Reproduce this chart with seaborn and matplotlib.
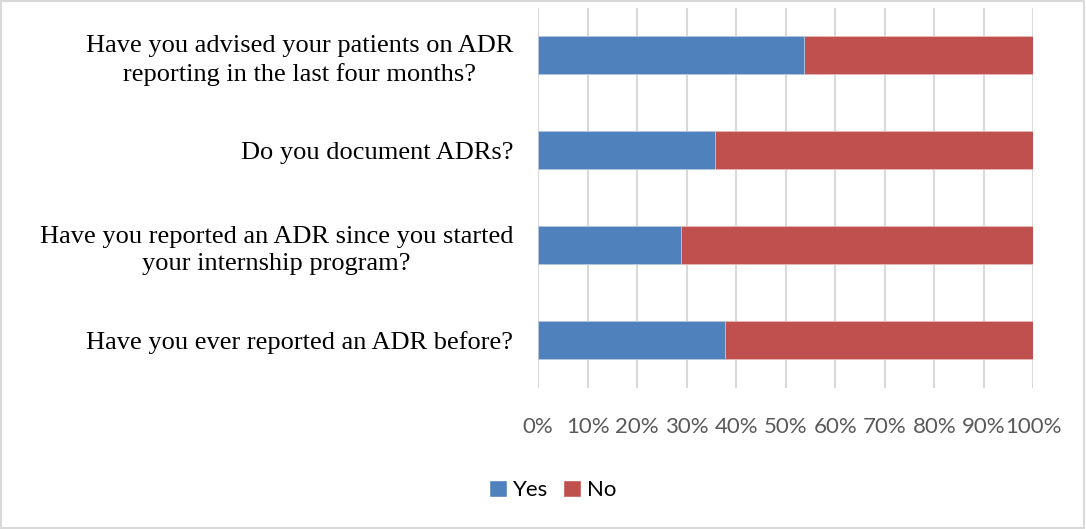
import matplotlib
matplotlib.use("Agg")
import matplotlib.pyplot as plt
import seaborn as sns
import pandas as pd
from matplotlib.patches import Rectangle, Patch
from matplotlib.ticker import FuncFormatter

questions = [
    "Have you advised your patients on ADR\nreporting in the last four months?",
    "Do you document ADRs?",
    "Have you reported an ADR since you started\nyour internship program?",
    "Have you ever reported an ADR before?",
]
yes_pct = [53.6, 35.7, 28.9, 37.8]
no_pct = [46.4, 64.3, 71.1, 62.2]
series_names = ["Yes", "No"]
x_ticks = [0, 10, 20, 30, 40, 50, 60, 70, 80, 90, 100]

blue = "#4F81BD"
red = "#C0504D"

sns.set_theme(style="white")
plt.rcParams["font.family"] = ["Lato", "DejaVu Sans"]

df = pd.DataFrame({"q": questions, "yes": yes_pct,
                   "total": [y + n for y, n in zip(yes_pct, no_pct)]})

fig = plt.figure(figsize=(10.86, 5.29), dpi=100)
ax = fig.add_axes([538.2 / 1086, 1 - 387.5 / 529, (1033.3 - 538.2) / 1086, 380 / 529])

sns.barplot(data=df, x="total", y="q", orient="h", color=red, width=0.4,
            saturation=1, ax=ax, edgecolor="#E6B8B7", linewidth=0.6, zorder=3)
sns.barplot(data=df, x="yes", y="q", orient="h", color=blue, width=0.4,
            saturation=1, ax=ax, edgecolor="#B8CCE4", linewidth=0.6, zorder=4)

ax.set_xlim(0, 100)
ax.set_ylim(3.5, -0.5)
ax.set_xticks(x_ticks)
ax.xaxis.set_major_formatter(FuncFormatter(lambda v, p: f"{int(v)}%"))
ax.grid(axis="x", color="#D9D9D9", linewidth=1.5, zorder=0)
ax.grid(axis="y", visible=False)
for s in ax.spines.values():
    s.set_visible(False)
ax.set_xlabel("")
ax.set_ylabel("")
ax.tick_params(axis="x", length=0, pad=21, labelsize=16, labelcolor="#595959")
ax.tick_params(axis="y", length=0, pad=18, labelsize=19, labelcolor="#000000")
for lbl in ax.get_yticklabels():
    lbl.set_fontfamily(["Liberation Serif"])
    lbl.set_horizontalalignment("right")
    lbl.set_multialignment("center")
    lbl.set_linespacing(1.32)

handles = [Patch(facecolor=blue), Patch(facecolor=red)]
leg = fig.legend(handles, series_names, loc="center", bbox_to_anchor=(0.509, 1 - 490 / 529),
                 ncol=2, frameon=False, fontsize=16, handlelength=0.8, handleheight=0.8,
                 handletextpad=0.25, columnspacing=0.7)
for t in leg.get_texts():
    t.set_color("#000000")

fig.patches.append(Rectangle((0.001, 0.002), 0.997, 0.996, transform=fig.transFigure,
                             fill=False, edgecolor="#D9D9D9", linewidth=1.5))

fig.savefig("out.png", dpi=100)
